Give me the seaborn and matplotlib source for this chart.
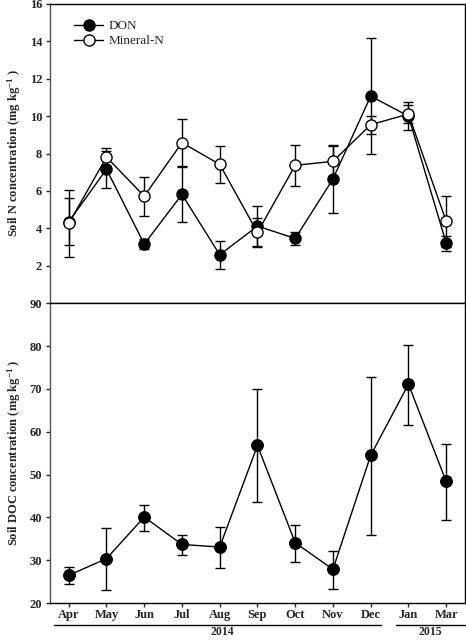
import numpy as np
import pandas as pd
import matplotlib
matplotlib.use("Agg")
import matplotlib.pyplot as plt
import matplotlib.transforms as mtransforms
from matplotlib.lines import Line2D
import seaborn as sns

# ── data ─────────────────────────────────────────────────────────────────────
months = ["Apr", "May", "Jun", "Jul", "Aug", "Sep", "Oct", "Nov", "Dec", "Jan", "Mar"]

don = [4.35, 7.16, 3.16, 5.81, 2.59, 4.12, 3.46, 6.64, 11.07, 10.0, 3.21]
don_err = [1.25, 0.98, 0.27, 1.46, 0.75, 1.05, 0.37, 1.8, 3.1, 0.75, 0.4]

mineral = [4.26, 7.81, 5.72, 8.58, 7.42, 3.78, 7.37, 7.58, 9.54, 10.11, 4.38]
mineral_err = [1.8, 0.5, 1.05, 1.27, 0.98, 0.78, 1.1, 0.8, 0.48, 0.5, 1.35]

doc = [26.5, 30.4, 40.1, 33.7, 33.1, 56.8, 34.1, 27.9, 54.5, 71.1, 48.4]
doc_lo = [24.4, 23.1, 36.9, 31.2, 28.1, 43.5, 29.6, 23.3, 36.0, 61.5, 39.4]
doc_hi = [28.5, 37.6, 43.0, 36.0, 37.7, 70.0, 38.2, 32.2, 72.8, 80.2, 57.2]

years = ["2014", "2015"]
year_spans = [(-0.4, 8.28), (8.68, 10.53)]
year_centres = [4.07, 9.58]

# ── style ────────────────────────────────────────────────────────────────────
sns.set_style("ticks")
plt.rcParams["font.family"] = ["Liberation Serif", "DejaVu Serif"]
plt.rcParams["font.weight"] = "bold"
plt.rcParams["mathtext.fontset"] = "custom"
plt.rcParams["mathtext.rm"] = "Liberation Serif:bold"
plt.rcParams["mathtext.bf"] = "Liberation Serif:bold"
plt.rcParams["mathtext.default"] = "bf"

x = np.arange(len(months))
df_n = pd.DataFrame({
    "x": np.concatenate([x, x]),
    "value": don + mineral,
    "form": ["DON"] * len(x) + ["Mineral-N"] * len(x),
})
df_c = pd.DataFrame({"x": x, "value": doc})

fig = plt.figure(figsize=(4.66, 6.41), dpi=100)
ax1 = fig.add_axes([0.107, 0.527, 0.891, 0.467])
ax2 = fig.add_axes([0.107, 0.059, 0.891, 0.468])

# ── top panel: soil N ────────────────────────────────────────────────────────
ax1.errorbar(x, don, yerr=don_err, fmt="none", ecolor="black", elinewidth=1.0,
             capsize=3.5, capthick=1.0, zorder=2)
ax1.errorbar(x, mineral, yerr=mineral_err, fmt="none", ecolor="black", elinewidth=1.0,
             capsize=3.5, capthick=1.0, zorder=2)
sns.lineplot(data=df_n, x="x", y="value", hue="form", style="form",
             palette={"DON": "black", "Mineral-N": "black"},
             markers={"DON": "o", "Mineral-N": "o"}, dashes=False,
             linewidth=1.0, ax=ax1, zorder=3, legend=False)
lines = ax1.get_lines()
for ln in lines[-2:]:
    ln.set_markersize(8)
    ln.set_markeredgecolor("black")
    ln.set_markeredgewidth(1.0)
lines[-2].set_markerfacecolor("black")
lines[-1].set_markerfacecolor("white")

handles = [
    Line2D([], [], color="black", lw=1.0, marker="o", ms=8, mfc="black", mec="black"),
    Line2D([], [], color="black", lw=1.0, marker="o", ms=8, mfc="white", mec="black"),
]
ax1.legend(handles, ["DON", "Mineral-N"], loc="upper left", frameon=False,
           bbox_to_anchor=(0.03, 0.985), handlelength=2.2, handletextpad=0.4,
           labelspacing=0.2, prop={"family": "Liberation Serif", "weight": "normal", "size": 9.5})

ax1.set_xlim(-0.5, 10.5)
ax1.set_ylim(0, 16)
ax1.set_yticks(np.arange(2, 17, 2))
ax1.set_xticks([])
ax1.set_xlabel("")
ax1.set_ylabel("Soil N concentration (mg kg$^{-1}$ )", fontsize=9, fontweight="bold", labelpad=5)

# ── bottom panel: soil DOC ───────────────────────────────────────────────────
lo = np.array(doc) - np.array(doc_lo)
hi = np.array(doc_hi) - np.array(doc)
ax2.errorbar(x, doc, yerr=[lo, hi], fmt="none", ecolor="black", elinewidth=1.0,
             capsize=3.5, capthick=1.0, zorder=2)
sns.lineplot(data=df_c, x="x", y="value", color="black", marker="o", markersize=8.5,
             markeredgecolor="black", linewidth=1.0, ax=ax2, zorder=3)

ax2.set_xlim(-0.5, 10.5)
ax2.set_ylim(20, 90)
ax2.set_yticks(np.arange(20, 91, 10))
ax2.set_xticks(x)
ax2.set_xticklabels(months, fontsize=9, fontweight="bold")
ax2.set_xlabel("")
ax2.set_ylabel("Soil DOC concentration (mg kg$^{-1}$ )", fontsize=9, fontweight="bold", labelpad=5)

# year bars under the month labels
trans = mtransforms.blended_transform_factory(ax2.transData, ax2.transAxes)
for yr, (a, b), c in zip(years, year_spans, year_centres):
    ax2.plot([a, b], [-0.072, -0.072], color="black", lw=1.0, transform=trans, clip_on=False)
    ax2.text(c, -0.076, yr, transform=trans, ha="center", va="top",
             fontsize=8.5, fontweight="bold")

for ax in (ax1, ax2):
    for side in ("top", "right", "left", "bottom"):
        ax.spines[side].set_visible(True)
        ax.spines[side].set_color("black")
        ax.spines[side].set_linewidth(1.0)
    ax.spines["left"].set_color("#555555")
    ax.tick_params(axis="both", direction="out", length=3, width=1.0,
                   labelsize=9, pad=2.5)
ax2.tick_params(axis="x", pad=1.5)
for ax in (ax1, ax2):
    for lab in ax.get_yticklabels() + ax.get_xticklabels():
        lab.set_fontweight("bold")

fig.savefig("out.png", dpi=100)
